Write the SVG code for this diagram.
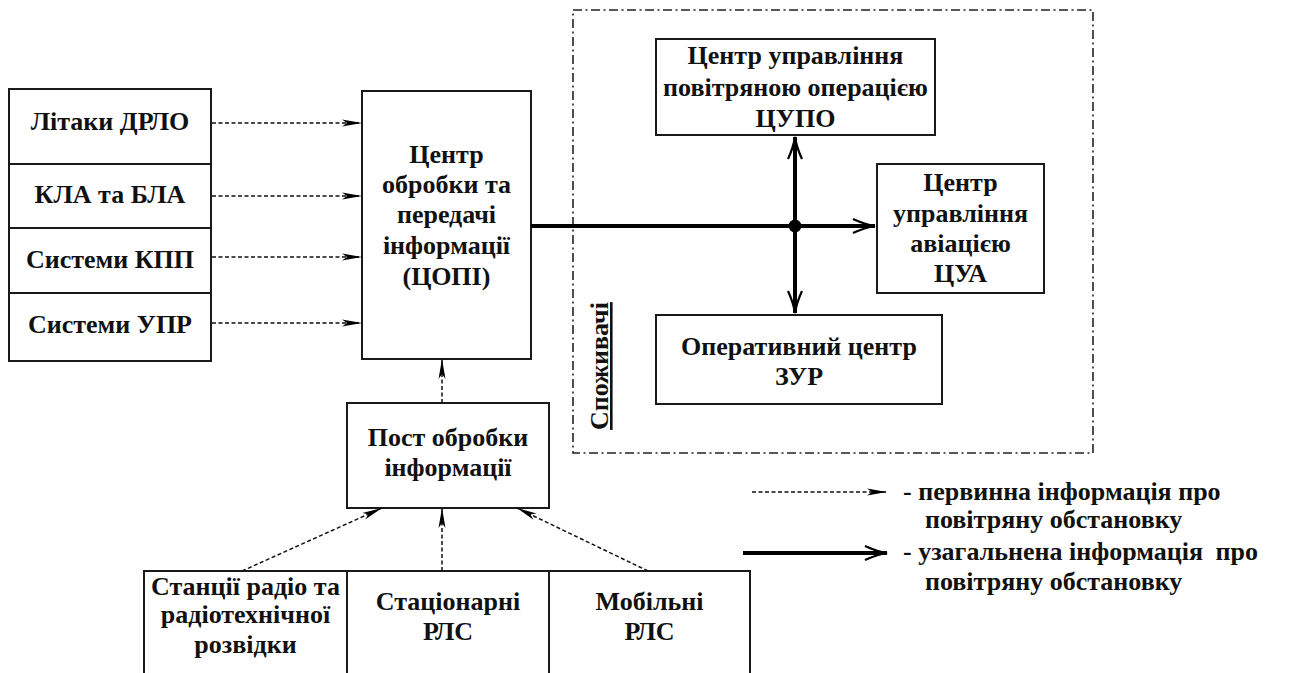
<svg xmlns="http://www.w3.org/2000/svg" width="1299" height="673" viewBox="0 0 1299 673">
  <style>
    .box { fill: #fff; stroke: #1a1a1a; stroke-width: 2; }
    text { font-family: 'Liberation Serif', 'Times New Roman', Tinos, 'Noto Serif', 'DejaVu Serif', serif; font-weight: 700; font-size: 26px; fill: #111; }
    .lbl { text-anchor: middle; }
    .dash { fill: none; stroke: #111; stroke-width: 1.5; stroke-dasharray: 4 2.5; marker-end: url(#thin); }
    .bold { fill: none; stroke: #000; stroke-width: 4; }
    .zone { fill: none; stroke: #222; stroke-width: 1.6; stroke-dasharray: 9 3.5 2 3.5; }
  </style>
  <defs>
    <!-- slim filled head for primary-information arrows -->
    <marker id="thin" markerUnits="userSpaceOnUse" markerWidth="22" markerHeight="10" refX="20" refY="5" orient="auto">
      <path d="M0,1.5 L20,5 L0,8.5 L5,5 z" fill="#000"/>
    </marker>
    <!-- open barbed head for generalized-information arrows -->
    <marker id="heavy" markerUnits="userSpaceOnUse" markerWidth="26" markerHeight="18" refX="23" refY="9" orient="auto">
      <path d="M1,2 Q13,7.5 23,9 Q13,10.5 1,16" fill="none" stroke="#000" stroke-width="2.2"/>
      <path d="M10,7.5 L23,9 L10,10.5 z" fill="#000"/>
    </marker>
  </defs>

  <!-- consumers zone -->
  <g id="consumers-zone">
    <rect class="zone" x="573" y="10" width="520" height="443"/>
    <text class="lbl" font-family="Liberation Serif, serif" text-decoration="underline" transform="translate(608,366) rotate(-90)">Споживачі</text>
  </g>

  <!-- sources on the left -->
  <g id="node-drlo">
    <rect class="box" x="9" y="89" width="202" height="75"/>
    <text class="lbl" x="110" y="129.5">Літаки ДРЛО</text>
  </g>
  <g id="node-kla">
    <rect class="box" x="9" y="164" width="202" height="64"/>
    <text class="lbl" x="110" y="203">КЛА та БЛА</text>
  </g>
  <g id="node-kpp">
    <rect class="box" x="9" y="228" width="202" height="65"/>
    <text class="lbl" x="110" y="267.5">Системи КПП</text>
  </g>
  <g id="node-upr">
    <rect class="box" x="9" y="293" width="202" height="68"/>
    <text class="lbl" x="110" y="332.5">Системи УПР</text>
  </g>

  <!-- central processing node -->
  <g id="node-copi">
    <rect class="box" x="362" y="91" width="169" height="268"/>
    <text class="lbl" x="446.5" y="162.5">Центр</text>
    <text class="lbl" x="446.5" y="193">обробки та</text>
    <text class="lbl" x="446.5" y="223">передачі</text>
    <text class="lbl" x="446.5" y="254">інформації</text>
    <text class="lbl" x="446.5" y="285">(ЦОПІ)</text>
  </g>

  <!-- processing post -->
  <g id="node-post">
    <rect class="box" x="347" y="403" width="202" height="105"/>
    <text class="lbl" x="448" y="445.5">Пост обробки</text>
    <text class="lbl" x="448" y="476">інформації</text>
  </g>

  <!-- radar sources at the bottom -->
  <g id="node-rtr">
    <rect class="box" x="144" y="571" width="203" height="115"/>
    <text class="lbl" x="245.5" y="594.5">Станції радіо та</text>
    <text class="lbl" x="245.5" y="623">радіотехнічної</text>
    <text class="lbl" x="245.5" y="653">розвідки</text>
  </g>
  <g id="node-stat">
    <rect class="box" x="347" y="571" width="202" height="115"/>
    <text class="lbl" x="448" y="609.5">Стаціонарні</text>
    <text class="lbl" x="448" y="640">РЛС</text>
  </g>
  <g id="node-mob">
    <rect class="box" x="549" y="571" width="201" height="115"/>
    <text class="lbl" x="649.5" y="609.5">Мобільні</text>
    <text class="lbl" x="649.5" y="640">РЛС</text>
  </g>

  <!-- consumers -->
  <g id="node-cupo">
    <rect class="box" x="656" y="39" width="279" height="96"/>
    <text class="lbl" x="795.5" y="64">Центр управління</text>
    <text class="lbl" x="795.5" y="96">повітряною операцією</text>
    <text class="lbl" x="795.5" y="127">ЦУПО</text>
  </g>
  <g id="node-cua">
    <rect class="box" x="877" y="164" width="167" height="129"/>
    <text class="lbl" x="960.5" y="191">Центр</text>
    <text class="lbl" x="960.5" y="221.5">управління</text>
    <text class="lbl" x="960.5" y="252">авіацією</text>
    <text class="lbl" x="960.5" y="282">ЦУА</text>
  </g>
  <g id="node-zur">
    <rect class="box" x="656" y="315" width="286" height="89"/>
    <text class="lbl" x="799" y="355">Оперативний центр</text>
    <text class="lbl" x="799" y="385">ЗУР</text>
  </g>

  <!-- connectors -->
  <g id="connectors">
    <line class="dash" x1="212" y1="123" x2="362" y2="123"/>
    <line class="dash" x1="212" y1="196" x2="362" y2="196"/>
    <line class="dash" x1="212" y1="257" x2="362" y2="257"/>
    <line class="dash" x1="212" y1="323" x2="362" y2="323"/>
    <line class="dash" x1="442" y1="403" x2="442" y2="359"/>
    <line class="dash" x1="242" y1="571" x2="382" y2="508"/>
    <line class="dash" x1="442" y1="571" x2="442" y2="508"/>
    <line class="dash" x1="648" y1="571" x2="517" y2="508"/>
    <line class="bold" x1="531" y1="226" x2="875" y2="226" marker-end="url(#heavy)"/>
    <line class="bold" x1="795" y1="226" x2="795" y2="137" marker-end="url(#heavy)"/>
    <line class="bold" x1="795" y1="226" x2="795" y2="313" marker-end="url(#heavy)"/>
    <circle cx="795" cy="226" r="6.5" fill="#000"/>
  </g>

  <!-- legend -->
  <g id="legend">
    <line class="dash" x1="752" y1="492" x2="887" y2="492"/>
    <text x="903" y="500">- первинна інформація про</text>
    <text x="925" y="528">повітряну обстановку</text>
    <line class="bold" x1="743" y1="553" x2="887" y2="553" marker-end="url(#heavy)"/>
    <text x="903" y="560">- узагальнена інформація <tspan dx="6">про</tspan></text>
    <text x="925" y="590">повітряну обстановку</text>
  </g>
</svg>
